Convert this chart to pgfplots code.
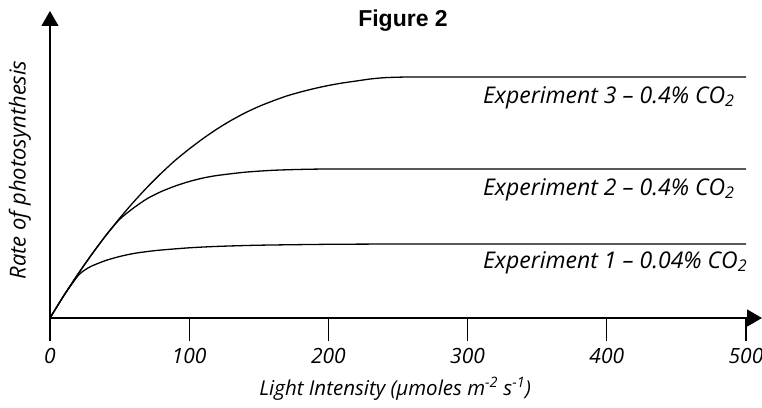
\documentclass[border=0pt]{standalone}
\usepackage{fontspec}
\usepackage{pgfplots}
\pgfplotsset{compat=1.18}
\usetikzlibrary{arrows.meta}
\setmainfont{Open Sans}
\newfontfamily\titlefont{Liberation Sans}

\begin{document}
\begin{tikzpicture}
\begin{axis}[
  x=1.392pt, y=1pt,
  xmin=0, xmax=511.5, ymin=0, ymax=307,
  axis x line=bottom, axis y line=left,
  axis line style={line width=1.3pt, -{Triangle[length=15pt,width=17pt]}},
  xtick={0,100,200,300,400,500},
  ytick=\empty,
  major tick length=0pt,
  /pgf/number format/assume math mode=true,
  xticklabel style={font=\fontsize{21}{23}\selectfont\itshape, anchor=center, yshift=-38pt},
  clip=false,
]
% tick marks below the axis
\addplot[ycomb, black, no marks, line width=1.2pt] coordinates {(0,-23) (100,-23) (200,-23) (300,-23) (400,-23) (500,-23)};
% Experiment 3
\addplot[black, no marks, line width=1.3pt, smooth, tension=0.4] coordinates {(0,0) (10,22.5) (20,43.7) (30,63.6) (40,82.3) (50,99.7) (60,115.9) (70,131) (80,144.9) (90,157.7) (100,169) (110,179.5) (120,189) (130,197.5) (140,205) (150,211.5) (160,217) (170,222) (180,226) (190,229.5) (200,232.5) (210,235) (220,237) (230,239) (240,240.3) (250,240.8) (260,241) (300,241) (400,241) (500,241)};
% Experiment 2
\addplot[black, no marks, line width=1.3pt, smooth, tension=0.4] coordinates {(0,0) (10,22.5) (20,43.7) (30,63.6) (40,82.2) (50,98.6) (60,110) (70,119.5) (80,126.5) (90,132) (100,136.5) (110,140) (120,142.5) (140,145.8) (160,147.7) (180,148.6) (200,149) (250,149) (300,149) (400,149) (500,149)};
% Experiment 1
\addplot[black, no marks, line width=1.3pt, smooth, tension=0.4] coordinates {(0,0) (10,22.5) (20,42) (25,48) (30,52) (40,57.5) (50,61.5) (60,64.5) (70,66.5) (80,68) (100,70.2) (120,71.6) (150,72.8) (200,73.7) (250,74) (300,74) (400,74) (500,74)};

\node[anchor=base west, font=\fontsize{23}{25}\selectfont\itshape, inner sep=0pt] at (axis cs:311,215) {Experiment 3 \textendash{} 0.4\% CO\textsubscript{2}};
\node[anchor=base west, font=\fontsize{23}{25}\selectfont\itshape, inner sep=0pt] at (axis cs:311,123) {Experiment 2 \textendash{} 0.4\% CO\textsubscript{2}};
\node[anchor=base west, font=\fontsize{23}{25}\selectfont\itshape, inner sep=0pt] at (axis cs:311,50) {Experiment 1 \textendash{} 0.04\% CO\textsubscript{2}};

\node[anchor=base, font=\fontsize{20.5}{22}\selectfont\itshape, inner sep=0pt] at (axis cs:248,-77) {Light Intensity (µmoles m\textsuperscript{-2} s\textsuperscript{-1})};
\node[rotate=90, font=\fontsize{22}{24}\selectfont\itshape, inner sep=0pt] at (axis cs:-21.6,148) {Rate of photosynthesis};
\node[anchor=base, font=\fontsize{23}{25}\selectfont\titlefont\bfseries, inner sep=0pt] at (axis cs:253.6,291) {Figure 2};

\coordinate (bbl) at (axis cs:-35.9,-89);
\coordinate (btr) at (axis cs:511.5,318);
\end{axis}
\pgfresetboundingbox
\path[use as bounding box] (bbl) rectangle (btr);
\end{tikzpicture}
\end{document}
